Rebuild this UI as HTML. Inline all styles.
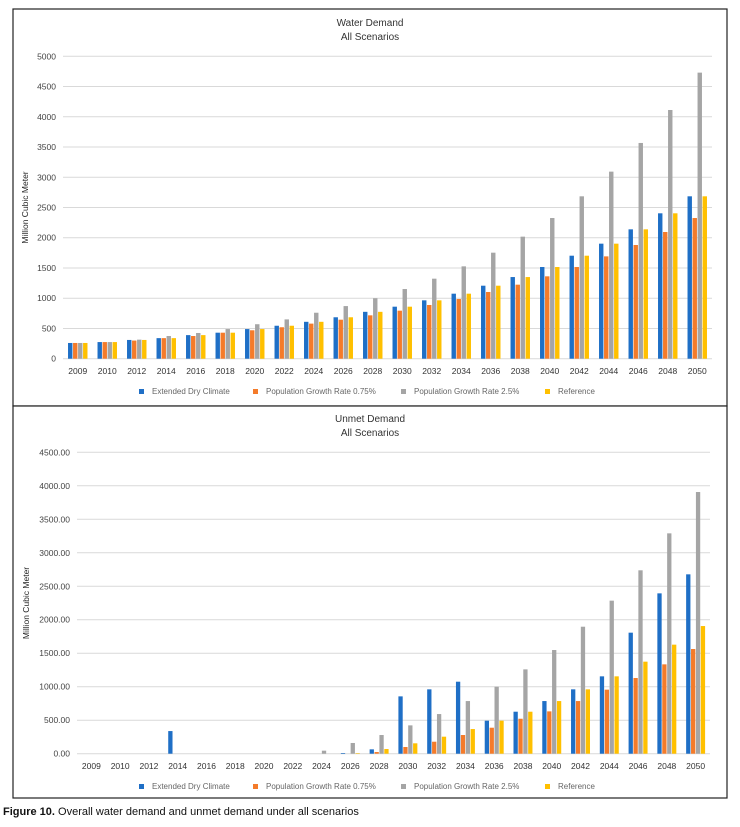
<!DOCTYPE html>
<html><head><meta charset="utf-8"><style>
body{margin:0;background:#fff;width:740px;height:822px;overflow:hidden;font-family:"Liberation Sans",sans-serif}
svg text{font-family:"Liberation Sans",sans-serif}
</style></head><body>
<svg id="svg" width="740" height="822">
<rect x="13" y="9" width="714" height="397" fill="#fff" stroke="#222" stroke-width="1.2"/>
<rect x="13" y="406" width="714" height="392" fill="#fff" stroke="#222" stroke-width="1.2"/>
<text x="370" y="26" font-size="10" text-anchor="middle" fill="#333">Water Demand</text>
<text x="370" y="40" font-size="10" text-anchor="middle" fill="#333">All Scenarios</text>
<text x="370" y="422" font-size="10" text-anchor="middle" fill="#333">Unmet Demand</text>
<text x="370" y="436" font-size="10" text-anchor="middle" fill="#333">All Scenarios</text>
<text x="3" y="815" font-size="11" fill="#111"><tspan font-weight="bold">Figure 10.</tspan> Overall water demand and unmet demand under all scenarios</text>
</svg>
<script>
const categories=["2009","2010","2012","2014","2016","2018","2020","2022","2024","2026","2028","2030","2032","2034","2036","2038","2040","2042","2044","2046","2048","2050"];
const seriesNames=["Extended Dry Climate","Population Growth Rate 0.75%","Population Growth Rate 2.5%","Reference"];
const demandDry=[260,275,310,340,390,430,490,545,610,685,775,860,965,1075,1207,1350,1516,1703,1902,2139,2404,2685];
const demandPop075=[260,275,300,340,375,430,470,520,580,645,717,794,888,987,1103,1224,1362,1516,1692,1880,2095,2326];
const demandPop25=[260,275,315,375,425,490,570,650,760,870,1000,1152,1323,1527,1753,2018,2326,2685,3093,3567,4112,4730];
const demandRef=[260,275,310,340,390,430,490,545,610,685,775,860,965,1075,1207,1350,1516,1703,1902,2139,2404,2685];
const unmetDry=[0,0,0,338,0,0,0,0,0,10,65,856,961,1075,493,627,786,961,1155,1807,2394,2678];
const unmetPop075=[0,0,0,0,0,0,0,0,0,0,25,100,179,279,388,522,632,786,956,1130,1334,1563];
const unmetPop25=[0,0,0,0,0,0,0,0,45,160,279,423,592,786,1000,1259,1548,1896,2285,2738,3290,3907];
const unmetRef=[0,0,0,0,0,0,0,0,0,8,70,155,254,368,493,627,786,961,1155,1374,1628,1906];
const demandTicks=[0,500,1000,1500,2000,2500,3000,3500,4000,4500,5000];
const unmetTicks=["0.00","500.00","1000.00","1500.00","2000.00","2500.00","3000.00","3500.00","4000.00","4500.00"];
const colors=["#1f6fc6","#f47b2a","#a5a5a5","#ffc000"];
const svg=document.getElementById('svg');
const NS="http://www.w3.org/2000/svg";
function mk(tag,attrs){const e=document.createElementNS(NS,tag);for(const k in attrs)e.setAttribute(k,attrs[k]);svg.appendChild(e);return e;}
function chart(prefix,x0,x1,y0,y1,max,ticks,series,ylabelX,legendY,xlabY){
  const ys=v=>y0-(v/max)*(y0-y1);
  const band=(x1-x0)/categories.length;
  const xs=i=>x0+band*i+band/2;
  ticks.forEach(t=>{
    const v=parseFloat(t);
    const l=mk('line',{x1:x0,x2:x1,y1:ys(v),y2:ys(v),stroke:'#d9d9d9','stroke-width':1});
    
    
    const tx=mk('text',{x:x0-7,y:ys(v)+3,'font-size':8.5,'text-anchor':'end',fill:'#444'});
    tx.textContent=t;
    
    
  });
  const bw=band*0.17;
  series.forEach((s,si)=>{
    s.forEach((v,i)=>{
      if(v<=0)return;
      const bx=xs(i)-2*bw+si*bw+0.3;
      const r=mk('rect',{x:bx,y:ys(v),width:bw-0.6,height:y0-ys(v),fill:colors[si]});
      
      
    });
  });
  categories.forEach((c,i)=>{
    const tx=mk('text',{x:xs(i),y:xlabY,'font-size':8.5,'text-anchor':'middle',fill:'#333'});
    tx.textContent=c;
    
    
  });
  const yt=mk('text',{x:0,y:0,'font-size':8.5,'text-anchor':'middle',fill:'#222',transform:`translate(${ylabelX},${(y0+y1)/2}) rotate(-90)`});
  yt.textContent="Million Cubic Meter";
  
  
  const lx=[139,253,401,545];
  seriesNames.forEach((n,si)=>{
    const r=mk('rect',{x:lx[si],y:legendY-5,width:5,height:5,fill:colors[si]});
    
    
    const t=mk('text',{x:lx[si]+13,y:legendY,'font-size':8,fill:'#666'});
    t.textContent=n;
    
    
  });
}
chart('demand',63,712,358.7,56.3,5000,demandTicks.map(String),[demandDry,demandPop075,demandPop25,demandRef],28,394,374);
chart('unmet',77,710,753.7,452.3,4500,unmetTicks,[unmetDry,unmetPop075,unmetPop25,unmetRef],29,789,769);
</script>
</body></html>
